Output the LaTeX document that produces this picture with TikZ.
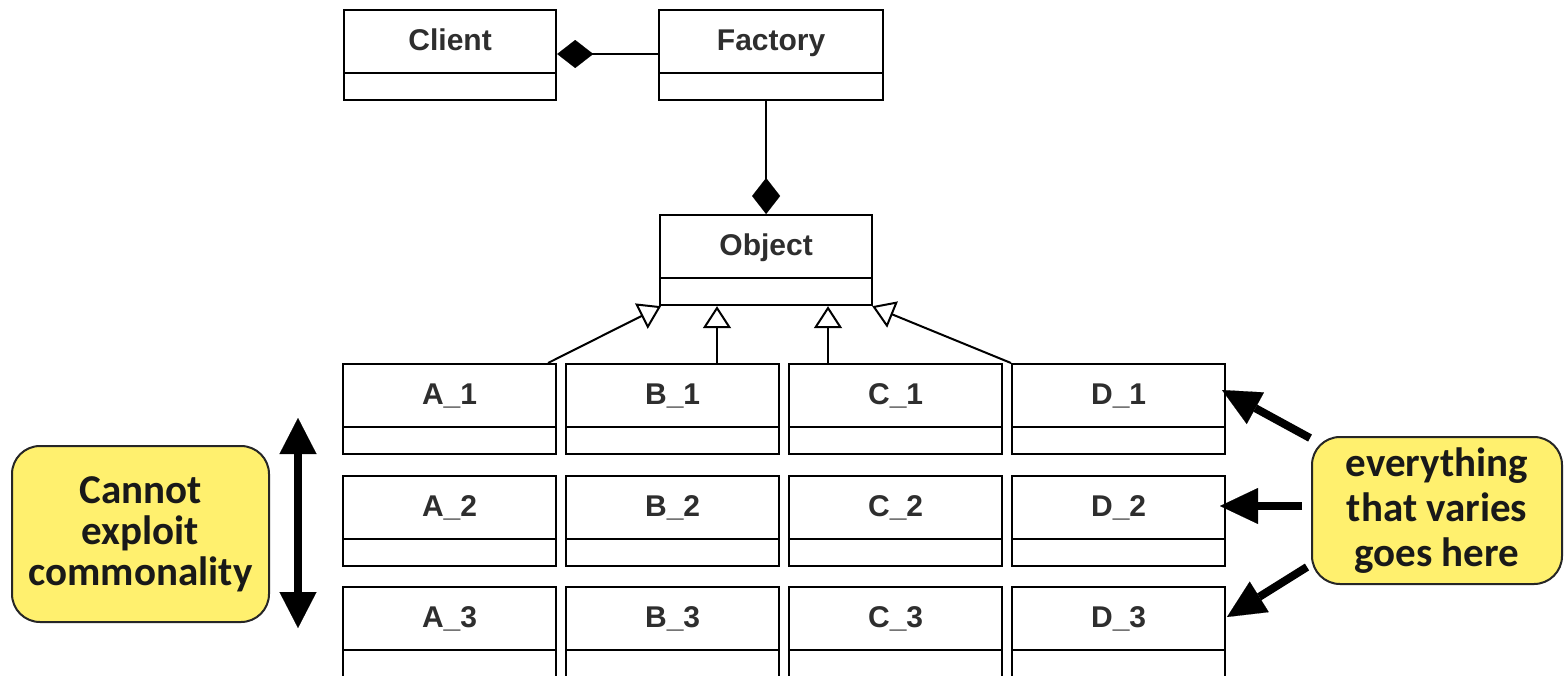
\documentclass[tikz,border=0pt]{standalone}
\usepackage{fontspec}
\setmainfont{Liberation Sans}
\newfontfamily\notefont{Carlito}
\usetikzlibrary{arrows.meta,calc}
\definecolor{notefill}{HTML}{FFF06E}
\definecolor{umltext}{HTML}{2E2E2E}

% UML class box: name, x, y (top-left), width, label
\newcommand\umlclass[5]{%
  \node[umlbox, minimum width=#4pt] (#1) at (#2,#3) {};
  \draw[umlline] ($(#1.north west)+(0,64)$) -- ($(#1.north east)+(0,64)$);
  \node[umllabel] (#1-label) at ($(#1.north)+(0,41)$) {#5};
}

\begin{document}
\begin{tikzpicture}[x=1pt,y=-1pt,
  umlline/.style={draw=black, line width=2.2pt},
  umlbox/.style={draw=black, line width=2.2pt, fill=white, minimum height=90pt,
    inner sep=0pt, anchor=north west},
  umllabel/.style={font=\fontsize{30}{36}\selectfont\bfseries, text=umltext,
    anchor=base, inner sep=0pt},
  note/.style={draw=black!85, line width=2pt, fill=notefill, rounded corners=28pt,
    align=center, inner sep=0pt, text=black!90},
  bigarrow/.style={line width=8pt, -{Triangle[length=38pt,width=36pt,line width=0.1pt]}},
  compose/.style={line width=2pt, {Diamond[length=36pt,width=28pt,line width=0.1pt]}-},
  inherit/.style={line width=2pt, -{Triangle[open,length=22pt,width=28pt,fill=white]}}
]
\useasboundingbox (0,0) rectangle (1565,675);
\fill[white] (0,0) rectangle (1565,675);

% top classes
\umlclass{client}{343}{9}{212}{Client}
\umlclass{factory}{658}{9}{224}{Factory}
\umlclass{object}{659}{214}{212}{Object}

% grid of concrete classes
\umlclass{a1}{342}{363}{213}{A\_1}
\umlclass{b1}{565}{363}{213}{B\_1}
\umlclass{c1}{788}{363}{213}{C\_1}
\umlclass{d1}{1011}{363}{213}{D\_1}
\umlclass{a2}{342}{475}{213}{A\_2}
\umlclass{b2}{565}{475}{213}{B\_2}
\umlclass{c2}{788}{475}{213}{C\_2}
\umlclass{d2}{1011}{475}{213}{D\_2}
\umlclass{a3}{342}{586}{213}{A\_3}
\umlclass{b3}{565}{586}{213}{B\_3}
\umlclass{c3}{788}{586}{213}{C\_3}
\umlclass{d3}{1011}{586}{213}{D\_3}

% compositions
\coordinate (cf) at (0,54);
\draw[compose] (client.east |- cf) -- (factory.west |- cf);
\draw[compose] (object.north) -- (object.north |- factory.south);

% generalisations
\coordinate (ia) at (548,363);
\coordinate (ib) at (717,363);
\coordinate (ic) at (828,363);
\draw[inherit] (ia) -- ($(object.south west)+(2,0)$);
\draw[inherit] (ib) -- (ib |- object.south);
\draw[inherit] (ic) -- (ic |- object.south);
\draw[inherit] (d1.north west) -- ($(object.south east)+(-1,0)$);

% notes
\node[note, minimum width=257pt, minimum height=176pt,
  font=\notefont\bfseries\fontsize{41}{41}\selectfont] (left note) at (140.5,534)
  {Cannot\\exploit\\commonality};
\node[note, minimum width=250pt, minimum height=147pt,
  font=\notefont\bfseries\fontsize{41}{45}\selectfont] (right note) at (1437,510.5)
  {everything\\that varies\\goes here};

% note arrows
\coordinate (vtop) at (298,418);
\coordinate (vbot) at (298,628);
\draw[bigarrow, {Triangle[length=36pt,width=37pt,line width=0.1pt]}-{Triangle[length=36pt,width=37pt,line width=0.1pt]}] (vtop) -- (vbot);

\coordinate (t1) at (1310,438);
\coordinate (t2) at (1302,506);
\coordinate (t3) at (1307,567);
\coordinate (h1) at (1222,390);
\coordinate (h2) at (1220,506);
\coordinate (h3) at (1227,617);
\draw[bigarrow] (t1) -- (h1);
\draw[bigarrow] (t2) -- (h2);
\draw[bigarrow] (t3) -- (h3);
\end{tikzpicture}
\end{document}
